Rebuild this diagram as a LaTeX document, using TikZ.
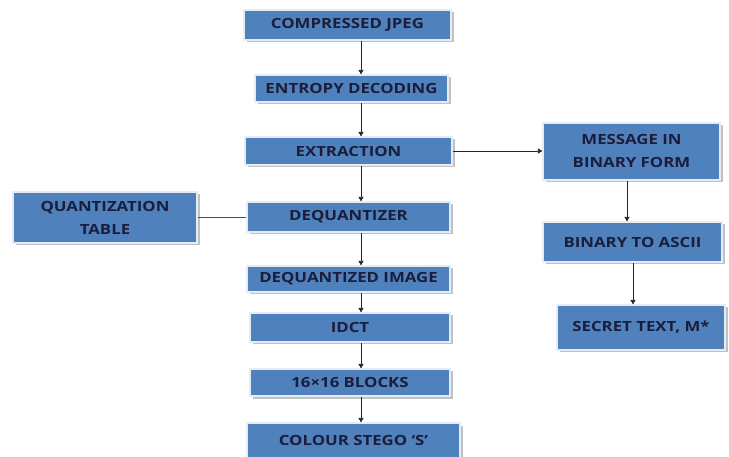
\documentclass[tikz,border=0pt]{standalone}
\usepackage{fontspec}
\setmainfont{Open Sans}[FakeStretch=1.2]
\usetikzlibrary{arrows.meta,shadows}
\definecolor{boxblue}{HTML}{4F81BD}
\definecolor{txt}{HTML}{1B1D3A}
\begin{document}
\begin{tikzpicture}[x=1pt,y=-1pt,
  blk/.style={draw=white!85!boxblue,line width=1.2pt,fill=boxblue,text=txt,
    font=\bfseries\fontsize{14}{23}\selectfont,align=center,inner sep=0pt,
    drop shadow={shadow xshift=2.5pt,shadow yshift=-2.5pt,fill=black!30,opacity=0.8}},
  arr/.style={draw=black!85,line width=0.8pt,-{Triangle[length=4.5pt,width=5pt]}},
  ln/.style={draw=black!70,line width=0.8pt}]
\useasboundingbox (0,0) rectangle (729,457);
\node[blk,minimum width=207,minimum height=30] (cj) at (347.5,25) {COMPRESSED JPEG};
\node[blk,minimum width=193,minimum height=27] (ed) at (351.5,88.5) {ENTROPY DECODING};
\node[blk,minimum width=207,minimum height=28] (ex) at (348.5,151) {EXTRACTION};
\node[blk,minimum width=203,minimum height=30] (dq) at (348.5,217) {DEQUANTIZER};
\node[blk,minimum width=203,minimum height=26] (di) at (348.5,279) {DEQUANTIZED IMAGE};
\node[blk,minimum width=200,minimum height=29] (idct) at (350,327.5) {IDCT};
\node[blk,minimum width=200,minimum height=27] (bl) at (350,382.5) {16×16 BLOCKS};
\node[blk,minimum width=213,minimum height=39] (cs) at (353.5,442.5) {\raisebox{4.5pt}{COLOUR STEGO ‘S’}};
\node[blk,minimum width=184,minimum height=51] (qt) at (105,217.5) {QUANTIZATION\\TABLE};
\node[blk,minimum width=177,minimum height=57] (mb) at (631.5,151.5) {MESSAGE IN\\BINARY FORM};
\node[blk,minimum width=179,minimum height=40] (ba) at (632.5,242) {BINARY TO ASCII};
\node[blk,minimum width=168,minimum height=45] (st) at (641,327.5) {SECRET TEXT, M*};
\coordinate (ax) at (361,0);
\coordinate (bx) at (627,0);
\coordinate (cx) at (633,0);
\draw[arr] (cj.south -| ax) -- (ed.north -| ax);
\draw[arr] (ed.south -| ax) -- (ex.north -| ax);
\draw[arr] (ex.south -| ax) -- (dq.north -| ax);
\draw[arr] (dq.south -| ax) -- (di.north -| ax);
\draw[arr] (di.south -| ax) -- (idct.north -| ax);
\draw[arr] (idct.south -| ax) -- (bl.north -| ax);
\draw[arr] (bl.south -| ax) -- (cs.north -| ax);
\draw[arr] (ex.east) -- (ex.east -| mb.west);
\draw[ln] (qt.east) -- (qt.east -| dq.west);
\draw[arr] (mb.south -| bx) -- (ba.north -| bx);
\draw[arr] (ba.south -| cx) -- (st.north -| cx);
\end{tikzpicture}
\end{document}
